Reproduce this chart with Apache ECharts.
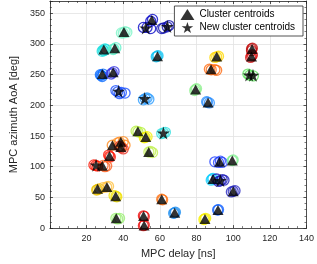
<!DOCTYPE html>
<html>
<head>
<meta charset="utf-8">
<script src="https://cdn.jsdelivr.net/npm/echarts@6/dist/echarts.min.js"></script>
<style>html,body{margin:0;padding:0;background:#fff}#c{width:317px;height:264px}</style>
</head>
<body>
<div id="c"></div>
<script>
// cluster colours (jet-like) indexed by cluster id
const clusterColors = [
  '#1ee0e0','#5ef0c8','#7cf5c8','#0a6cff','#3a3ae6','#1a50ff','#2a9cff','#10c4f4','#0808c8','#1010b0',
  '#ffd800','#ff6a10','#c01010','#d81414','#58e058','#8ef08e','#2c90ff','#b8f040','#f4f000','#30e0e0',
  '#c0f050','#ff8c20','#e83020','#ff2010','#ff1400','#ff6020','#e8c000','#ffc040','#f0e000','#98f070',
  '#ee1010','#ee1010','#ff7010','#2090f0','#f8f000','#1060ff','#2040ff','#80f090','#10d0ff','#1818b8','#2828c0'
];
// MPC points: [delay ns, azimuth deg, cluster id]
const mpcPoints = [
  [29,290,0],[30,292,0],[28.5,288,0],[30.5,291,0],[29.5,289,0],
  [35,292,1],[36,294,1],[34.5,291,1],
  [40,318,2],[42,319,2],[39,318,2],[41,320,2],
  [28,249,3],[29,251,3],[28.5,247,3],[27.5,250,3],
  [34,253,4],[35,255,4],[33.5,251,4],
  [37,222,5],[39,221,5],[41,220,5],[38,219,5],[36,224,5],
  [52,211,6],[54,210,6],[51,209,6],[53,212,6],
  [58.5,280,7],[59,281,7],[58,279,7],
  [55,337,8],[53,327,8],[55,325,8],[51,327,8],[56,340,8],
  [64,328,9],[62,326,9],[65,330,9],[61,325,9],
  [91,279,10],[92,280,10],[90,278,10],
  [88,258,11],[90,258,11],[87,259,11],[91,257,11],
  [110,292,12],[110,289,12],[110.5,293,12],
  [110,280,13],[110.5,282,13],[109.5,278,13],
  [109,249,14],[111,248,14],[108,251,14],
  [79.5,226,15],[80,227,15],[79,224,15],
  [86,205,16],[87,204,16],[85.5,206,16],
  [48,157,17],[49.5,156,17],[47,158,17],
  [52,148,18],[53,149,18],[51.5,147,18],
  [62,155,19],[61,154,19],[63,156,19],
  [54,124,20],[55,125,20],[56,123,20],
  [34,135,21],[38,140,21],[40,141,21],[39,133,21],[41,135,21],[37,139,21],
  [39,131,22],[40,129,22],[38,133,22],
  [32.5,117,23],[33,116,23],[32,119,23],
  [25,102,24],[24,103,24],[26,101,24],
  [29,102,25],[30,100,25],[31,101,25],
  [26,63,26],[25.5,62,26],[27,64,26],
  [31,67,27],[29,66,27],[32,68,27],
  [36,52,28],[36.5,51,28],[35,53,28],
  [36,16,29],[37,15,29],[38,16,29],
  [51,20,30],[51.5,19,30],
  [51,4,31],[51.5,5,31],
  [61,47,32],[61.5,46,32],
  [68,25,33],[68.5,26,33],[67.5,24,33],
  [84.5,15,34],[85,16,34],[84,14,34],
  [91.5,29.5,35],[92,30,35],
  [92,107,36],[93,109,36],[90,108,36],[94,107,36],
  [99.5,110,37],[100,111,37],
  [88.5,80,38],[89,81,38],[88,78,38],
  [93,77,39],[94,79,39],[92,76,39],[95,78,39],[91,80,39],
  [100,60,40],[99,59,40],[101,61,40]
];
const clusterCentroids = [
  [29.4,291],[35.4,293],[40.4,319.5],[28.6,251],[34.5,254],[58.7,280],[55.6,339],[91,279.5],
  [87.9,259],[110.3,292],[110,279.5],[79.5,226],[86.3,204.6],[48,157.7],[52.3,148.6],[53.9,124],
  [34.1,135],[38.7,140.5],[38.7,132],[32.5,117.6],[28.6,101.6],[26,64],[31.1,66.8],[35.9,52],
  [36.2,16],[51.1,19.9],[51.4,4.3],[61,47],[68.1,25],[84.6,15],[91.7,29.5],[92.6,108],
  [99.5,110],[89,80],[100,60]
];
const newCentroids = [
  [37.5,223],[51.7,211],[52.3,326],[64.1,328.5],[108.7,249.5],[110.8,249],[61.9,155],[25.2,102.6],[93,77.5]
];
const xTicks = [20,40,60,80,100,120,140];
const yTicks = [0,50,100,150,200,250,300,350];

const STAR = 'path://M50,0 L61.8,35.1 L98.5,35.1 L68.8,56.9 L80.1,92 L50,70.3 L19.9,92 L31.2,56.9 L1.5,35.1 L38.2,35.1 Z';
const txt = '#262626';
const font = 'Liberation Sans, Arial, Helvetica, sans-serif';
const chart = echarts.init(document.getElementById('c'), null, {renderer:'canvas'});
const axisBase = (pos) => ({
  type:'value', position:pos,
  axisLine:{show:true, onZero:false, lineStyle:{color:txt, width:0.8}},
  axisTick:{show:true, inside:true, length:3, lineStyle:{color:txt, width:0.8}}
});
chart.setOption({
  animation:false,
  backgroundColor:'#fff',
  grid:{left:32, right:9, top:1, bottom:32, containLabel:false},
  xAxis:[Object.assign(axisBase('bottom'), {
    min:0, max:140, interval:20,
    name:'MPC delay [ns]', nameLocation:'middle', nameGap:18,
    nameTextStyle:{color:txt, fontSize:11, fontFamily:font},
    minorTick:{show:true, splitNumber:4, length:2, lineStyle:{color:txt, width:0.6}},
    axisLabel:{color:txt, fontSize:9, fontFamily:font, margin:6, showMinLabel:false,
      formatter:v=>xTicks.includes(v)?String(v):''},
    splitLine:{show:true, lineStyle:{color:'#e2e2e2', width:0.8}}
  }), Object.assign(axisBase('top'), {
    min:0, max:140, interval:20,
    minorTick:{show:true, splitNumber:4, length:2, lineStyle:{color:txt, width:0.6}},
    axisLabel:{show:false}, splitLine:{show:false}
  })],
  yAxis:[Object.assign(axisBase('left'), {
    min:0, max:370, interval:50,
    name:'MPC azimuth AoA [deg]', nameLocation:'middle', nameGap:17,
    nameTextStyle:{color:txt, fontSize:11, fontFamily:font},
    minorTick:{show:true, splitNumber:5, length:2, lineStyle:{color:txt, width:0.6}},
    axisLabel:{color:txt, fontSize:9, fontFamily:font, margin:5, showMaxLabel:false,
      formatter:v=>yTicks.includes(v)?String(v):''},
    splitLine:{show:true, lineStyle:{color:'#e2e2e2', width:0.8}}
  }), Object.assign(axisBase('right'), {
    min:0, max:370, interval:50,
    minorTick:{show:true, splitNumber:5, length:2, lineStyle:{color:txt, width:0.6}},
    axisLabel:{show:false}, splitLine:{show:false}
  })],
  legend:{
    orient:'vertical', right:14, top:6, padding:[3,8,3,6],
    itemWidth:14, itemHeight:11, itemGap:2,
    borderColor:txt, borderWidth:0.8, backgroundColor:'#fff',
    textStyle:{color:'#000', fontSize:10, fontFamily:font},
    data:['Cluster centroids','New cluster centroids']
  },
  series:[{
    type:'scatter', name:'MPCs',
    data:mpcPoints.map(p=>({value:[p[0],p[1]],
      itemStyle:{color:'rgba(0,0,0,0)', borderColor:clusterColors[p[2]], borderWidth:1.3}})),
    symbol:'circle', symbolSize:10, z:2
  },{
    type:'scatter', name:'Cluster centroids', data:clusterCentroids,
    symbol:'triangle', symbolSize:[11,10], z:3,
    itemStyle:{color:'#000'}
  },{
    type:'scatter', name:'New cluster centroids', data:newCentroids,
    symbol:STAR, symbolSize:13, z:3,
    itemStyle:{color:'#000'}
  }]
});
</script>
</body>
</html>
